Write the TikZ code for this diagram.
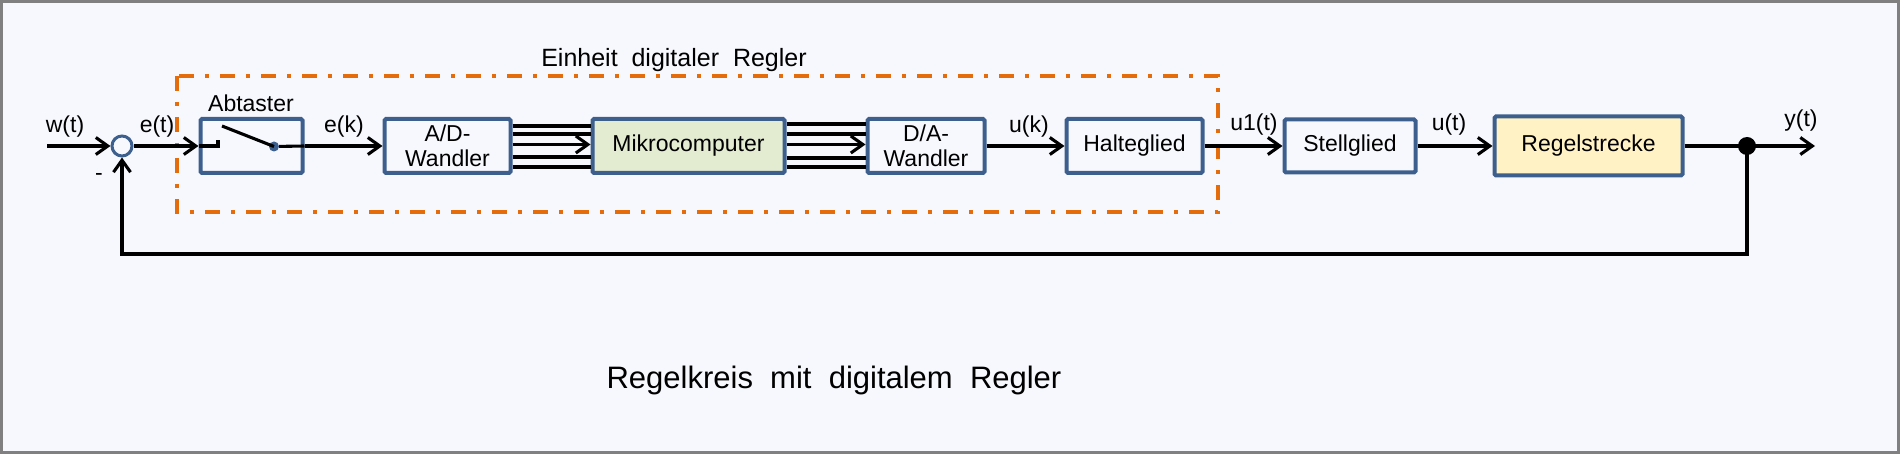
\documentclass[tikz,border=0pt]{standalone}
\usepackage{fontspec}
\setmainfont{Liberation Sans}
\usetikzlibrary{arrows.meta,calc}
\definecolor{bg}{HTML}{F7F8FD}
\definecolor{framegray}{HTML}{808080}
\definecolor{boxblue}{HTML}{3C5F8D}
\definecolor{dashorange}{HTML}{E46C0A}
\definecolor{mcgreen}{HTML}{E3EBD1}
\definecolor{rsyellow}{HTML}{FFF2C4}
\begin{document}
\begin{tikzpicture}[x=1pt,y=-1pt,
  blk/.style={draw=boxblue, line width=4pt, rounded corners=1.5pt, fill=bg,
    inner sep=0pt, font=\fontsize{23}{25}\selectfont, align=center},
  lbl/.style={font=\fontsize{23}{25}\selectfont, inner sep=0pt},
  sig/.style={line width=3.1pt, -{Straight Barb[length=12pt,width=17pt]}},
  wire/.style={line width=3.1pt},
  ctrlbox/.style={draw=dashorange, line width=4.2pt,
    dash pattern=on 15pt off 11pt on 4pt off 11pt}]
\useasboundingbox (0,0) rectangle (1900,454);
\fill[bg] (0,0) rectangle (1900,454);
\draw[framegray, line width=3pt] (1.5,1.5) rectangle (1898.5,452.5);

% controller unit frame
\draw[ctrlbox] (177,76) rectangle (1218,212);
\node[anchor=base, font=\fontsize{25}{28}\selectfont, inner sep=0pt] (einheit) at (674,66.7) {Einheit\ \ digitaler\ \ Regler};

% blocks
\node[blk, minimum width=102pt, minimum height=54pt] (ab) at (251.5,146) {};
\node[blk, minimum width=126pt, minimum height=54pt] (ad) at (447.5,146) {A/D-\\Wandler};
\node[blk, minimum width=192pt, minimum height=54pt, fill=mcgreen] (mc) at (688.5,146) {Mikrocomputer};
\node[blk, minimum width=117pt, minimum height=54pt] (da) at (926,146) {D/A-\\Wandler};
\node[blk, minimum width=136pt, minimum height=54pt] (hg) at (1134.5,146) {Halteglied};
\node[blk, minimum width=131pt, minimum height=53pt] (sg) at (1350,146) {Stellglied};
\node[blk, minimum width=188pt, minimum height=59pt, fill=rsyellow] (rs) at (1588.5,146) {Regelstrecke};

% summing point and branch point
\node[draw=boxblue, line width=3pt, circle, minimum size=20pt, inner sep=0pt] (sum) at (122,146) {};
\node[circle, fill=black, minimum size=18pt, inner sep=0pt] (br) at (1747,146) {};
\coordinate (win) at (47,146);
\coordinate (yout) at (1815,146);
\coordinate (fbr) at (1747,254);
\coordinate (fbl) at (122,254);

% switch inside Abtaster
\node[circle, fill=boxblue, minimum size=10pt, inner sep=0pt] (swdot) at (274,146.5) {};
\coordinate (swa) at (218,146);
\coordinate (swb) at (218,140);
\coordinate (blade) at (222,126);
\draw[wire] (ab.west) -- (swa) -- (swb);
\draw[wire] (blade) -- (swdot.center);
\draw[wire] (swdot) -- (ab.east);

% labels
\node[lbl] (lw) at (65,127) {w(t)};
\node[lbl, anchor=base] (lminus) at (99,181) {-};
\node[lbl] (le) at (157,127) {e(t)};
\node[lbl] (labt) at (251,103) {Abtaster};
\node[lbl] (lek) at (344,127) {e(k)};
\node[lbl] (luk) at (1029,127) {u(k)};
\node[lbl] (lu1) at (1254,125) {u1(t)};
\node[lbl] (lu) at (1449,125) {u(t)};
\node[lbl] (ly) at (1801,121) {y(t)};

% signals
\draw[sig] (win) -- (sum.west);
\draw[sig] (sum.east) -- (ab.west);
\draw[sig] (ab.east) -- (ad.west);
\foreach \dy in {-20,-12,11,21}
  \draw[wire] ($(ad.east)+(0,\dy)$) -- ($(mc.west)+(0,\dy)$);
\draw[sig] ($(ad.east)+(0,-1.5)$) -- ($(mc.west)+(0,-1.5)$);
\foreach \dy in {-22,-12,12,21}
  \draw[wire] ($(mc.east)+(0,\dy)$) -- ($(da.west)+(0,\dy)$);
\draw[sig] ($(mc.east)+(0,-1.5)$) -- ($(da.west)+(0,-1.5)$);
\draw[sig] (da.east) -- (hg.west);
\draw[sig] (hg.east) -- (sg.west);
\draw[sig] (sg.east) -- (rs.west);
\draw[wire] (rs.east) -- (br.center);
\draw[sig] (br.center) -- (yout);
\draw[sig] (br.center) -- (fbr) -- (fbl) -- (sum.south);

% title
\node[anchor=base, font=\fontsize{31}{36}\selectfont, inner sep=0pt] (title) at (834,388) {Regelkreis\ \ mit\ \ digitalem\ \ Regler};
\end{tikzpicture}
\end{document}
